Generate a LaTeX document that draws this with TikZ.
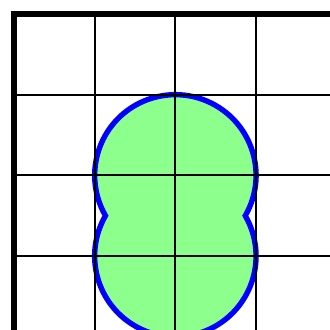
\documentclass[tikz,border=0pt]{standalone}
\usetikzlibrary{calc}
\definecolor{lightgreen}{rgb}{0.55,1,0.55}

\begin{document}
\begin{tikzpicture}[x=1cm,y=1cm]
  \useasboundingbox (-0.173,-3.916) rectangle (3.916,0.173);
  \clip (-0.173,-3.916) rectangle (3.916,0.173);

  \coordinate (ctop) at (2,-2);
  \coordinate (cbot) at (2,-3);
  \fill[lightgreen] (ctop) circle[radius=1];
  \fill[lightgreen] (cbot) circle[radius=1];
  \draw[blue, line width=1.9pt]
    ($(ctop)+(-30:1)$) arc[start angle=-30, end angle=210, radius=1]
    arc[start angle=150, end angle=390, radius=1] -- cycle;

  \foreach \i in {1,2,3} {
    \draw[line width=0.75pt] (\i,0) -- (\i,-4.5);
    \draw[line width=0.75pt] (0,-\i) -- (4.5,-\i);
  }
  \draw[line width=2pt, line cap=rect] (0,-4.5) -- (0,0) -- (4.5,0);
\end{tikzpicture}
\end{document}
